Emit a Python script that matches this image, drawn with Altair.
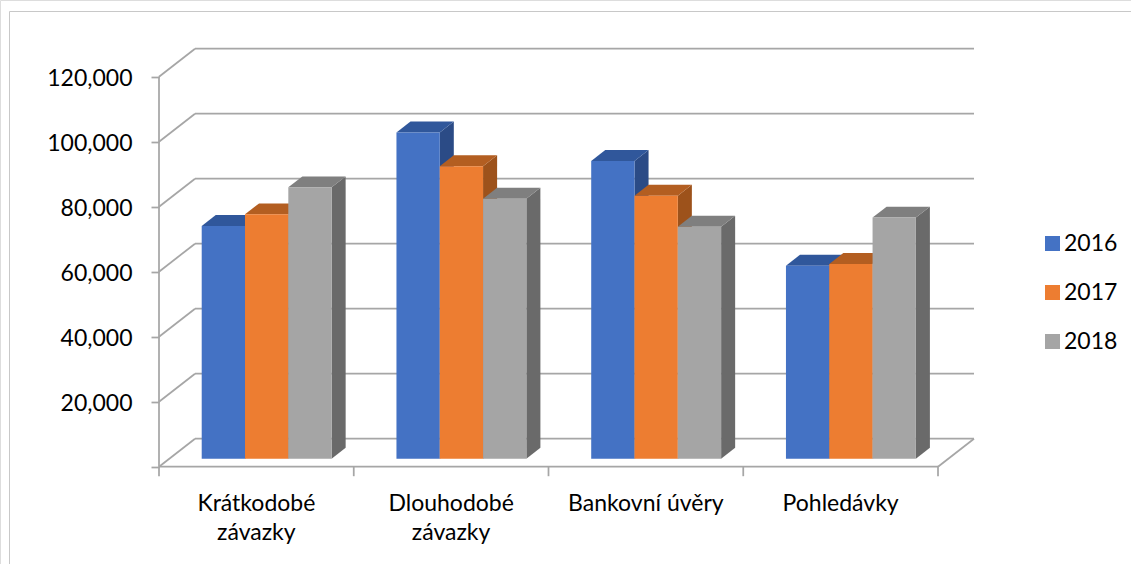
import altair as alt
import pandas as pd

# ---------------- data ----------------
categories = ["Krátkodobé závazky", "Dlouhodobé závazky", "Bankovní úvěry", "Pohledávky"]
category_labels = ["Krátkodobé\nzávazky", "Dlouhodobé\nzávazky", "Bankovní úvěry", "Pohledávky"]
years = ["2016", "2017", "2018"]
values_2016 = [71600, 100400, 91600, 59400]
values_2017 = [75200, 90000, 80900, 59900]
values_2018 = [83500, 80000, 71400, 74200]
y_ticks = [0, 20000, 40000, 60000, 80000, 100000, 120000]

front_colors = ["#4472C4", "#ED7D31", "#A5A5A5"]
top_colors = ["#30579B", "#B35E21", "#7F7F7F"]
side_colors = ["#2B4B86", "#9D521B", "#6A6A6A"]

# ---------------- layout (pixel geometry -> data units) ----------------
W, H = 1131, 564
AXIS_X = 159.0        # pixel of front-left corner
CAT_PX = 194.75       # pixel width of one category on the front edge
ZERO_Y = 466.7        # pixel of value 0 on the front edge
PX_PER_VAL = 0.00325  # pixels per value unit

def du(px):
    return px / CAT_PX

def dv(px):
    return px / PX_PER_VAL

x_domain = [du(-AXIS_X), du(W - AXIS_X)]
y_domain = [-dv(H - ZERO_Y), dv(ZERO_Y)]

FLOOR_DU, FLOOR_DV = du(36), dv(28)          # depth of floor
PLANE = 8 / 28                               # depth of bar front plane
DEPTH = 0.39                                 # bar depth as part of floor depth
PLANE_DU, PLANE_DV = FLOOR_DU * PLANE, FLOOR_DV * PLANE
DEPTH_DU, DEPTH_DV = FLOOR_DU * DEPTH, FLOOR_DV * DEPTH
BW = du(43.3)
GROUP_OFF = (1 - 3 * BW) / 2
N = len(categories)

series = [values_2016, values_2017, values_2018]
front, side, top = [], [], []
for i, cat in enumerate(categories):
    for j, year in enumerate(years):
        v = series[j][i]
        xl = i + GROUP_OFF + PLANE_DU + j * BW
        xr = xl + BW
        b, t = PLANE_DV, PLANE_DV + v
        bid = f"{i}-{j}"
        front.append(dict(cat=cat, year=year, value=v, xl=xl, xr=xr, y0=b, y1=t))
        side.append(dict(bid=bid, x=xr, lo=b, hi=t, fill=side_colors[j]))
        side.append(dict(bid=bid, x=xr + DEPTH_DU, lo=b + DEPTH_DV, hi=t + DEPTH_DV, fill=side_colors[j]))
        top.append(dict(bid=bid, y=t, xa=xl, xb=xr, fill=top_colors[j]))
        top.append(dict(bid=bid, y=t + DEPTH_DV, xa=xl + DEPTH_DU, xb=xr + DEPTH_DU, fill=top_colors[j]))

lines = []
for tv in y_ticks:
    lines.append(dict(x=0, y=tv, x2=FLOOR_DU, y2=tv + FLOOR_DV))
    lines.append(dict(x=FLOOR_DU, y=tv + FLOOR_DV, x2=N + FLOOR_DU, y2=tv + FLOOR_DV))
lines.append(dict(x=0, y=0, x2=0, y2=y_ticks[-1]))
lines.append(dict(x=0, y=0, x2=N, y2=0))
lines.append(dict(x=N, y=0, x2=N + FLOOR_DU, y2=FLOOR_DV))
for k in range(N + 1):
    lines.append(dict(x=k, y=0, x2=k, y2=-dv(9.5)))

labels = [dict(x=i + 0.5, y=-dv(44), label=category_labels[i]) for i in range(N)]

xs = alt.Scale(domain=x_domain, nice=False, zero=False)
ys = alt.Scale(domain=y_domain, nice=False, zero=False)
GRID = "#A6A6A6"

# chart frame (only its left and top edges fall inside the picture)
frame_left = alt.Chart(pd.DataFrame({"a": [0]})).mark_rule(
    color="#C8C8C8", strokeWidth=1
).encode(x=alt.value(9.5), y=alt.value(11.5), y2=alt.value(H))
frame_top = alt.Chart(pd.DataFrame({"a": [0]})).mark_rule(
    color="#C8C8C8", strokeWidth=1
).encode(x=alt.value(9.5), x2=alt.value(W), y=alt.value(11.5))

grid = alt.Chart(pd.DataFrame(lines)).mark_rule(color=GRID, strokeWidth=1.75).encode(
    x=alt.X("x:Q", scale=xs, axis=None),
    x2="x2:Q",
    y=alt.Y("y:Q", scale=ys,
            axis=alt.Axis(values=y_ticks, title=None, domain=False, grid=False,
                          labelExpr="datum.value == 0 ? '' : format(datum.value, ',')",
                          tickColor=GRID, tickWidth=1.75, tickSize=8, labelPadding=19,
                          labelFontSize=23, labelColor="#000000", labelFont="Lato",
                          labelOffset=2, offset=-AXIS_X)),
    y2="y2:Q",
)

sides = alt.Chart(pd.DataFrame(side)).mark_area(orient="vertical").encode(
    x=alt.X("x:Q", scale=xs),
    y=alt.Y("lo:Q", scale=ys),
    y2="hi:Q",
    detail="bid:N",
    color=alt.Color("fill:N", scale=None),
)

tops = alt.Chart(pd.DataFrame(top)).mark_area(orient="horizontal").encode(
    y=alt.Y("y:Q", scale=ys),
    x=alt.X("xa:Q", scale=xs),
    x2="xb:Q",
    detail="bid:N",
    color=alt.Color("fill:N", scale=None),
)

fronts = alt.Chart(pd.DataFrame(front)).mark_rect().encode(
    x=alt.X("xl:Q", scale=xs),
    x2="xr:Q",
    y=alt.Y("y0:Q", scale=ys),
    y2="y1:Q",
    color=alt.Color("year:N", scale=alt.Scale(domain=years, range=front_colors),
                    legend=alt.Legend(orient="none", legendX=1041, legendY=232, title=None,
                                      symbolType="square", symbolSize=225,
                                      symbolStrokeWidth=0, labelFontSize=23,
                                      labelFont="Lato", labelColor="#000000",
                                      rowPadding=25, labelOffset=0, padding=0)),
    tooltip=["cat:N", "year:N", "value:Q"],
)

texts = alt.Chart(pd.DataFrame(labels)).mark_text(
    font="Lato", fontSize=23, color="#000000", align="center", baseline="alphabetic",
    lineBreak="\n", lineHeight=29
).encode(
    x=alt.X("x:Q", scale=xs),
    y=alt.Y("y:Q", scale=ys),
    text="label:N",
)

chart = alt.layer(frame_left, frame_top, grid, sides, tops, fronts, texts).resolve_scale(
    color="independent"
).properties(
    width=W, height=H, autosize=alt.AutoSizeParams(type="none"), padding=0,
    background="#FFFFFF"
).configure_view(strokeWidth=0).configure(font="Lato")

chart.save("out.html", embed_options={"renderer": "svg", "actions": False})
